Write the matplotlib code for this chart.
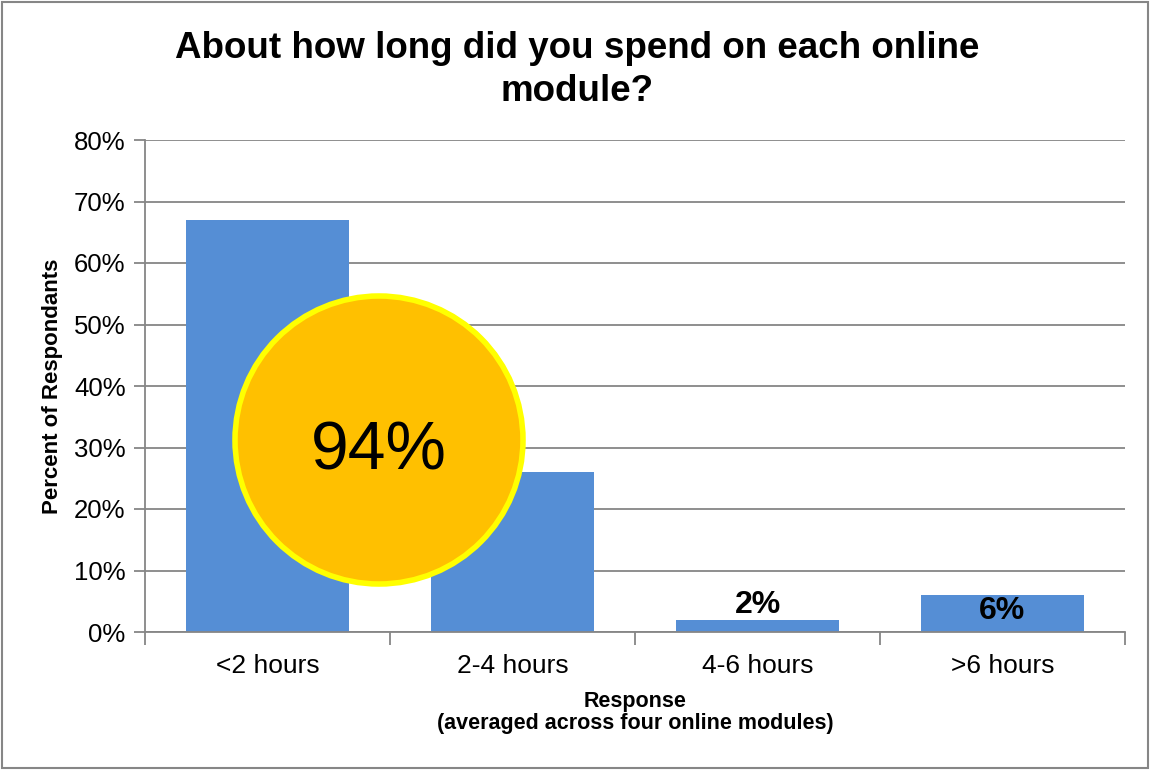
import matplotlib
matplotlib.use("Agg")
import matplotlib.pyplot as plt
from matplotlib.patches import Ellipse, Rectangle
from matplotlib.ticker import FuncFormatter, MultipleLocator

categories = ["<2 hours", "2-4 hours", "4-6 hours", ">6 hours"]
values = [67, 26, 2, 6]
labelled = [False, False, True, True]
callout_text = "94%"

plt.rcParams['font.family'] = ['Liberation Sans', 'DejaVu Sans']

W, H = 1150, 770
fig = plt.figure(figsize=(W / 100, H / 100), dpi=100)
ax = fig.add_axes([145 / W, 1 - 632 / H, (1125 - 145) / W, (632 - 140) / H])

grid_c = "#868686"
x = list(range(len(categories)))
ax.bar(x, values, width=0.665, color="#558ED5", zorder=2)
ax.set_xlim(-0.5, len(categories) - 0.5)
ax.set_ylim(0, 80)
ax.yaxis.set_major_locator(MultipleLocator(10))
ax.yaxis.set_major_formatter(FuncFormatter(lambda v, p: f"{v:.0f}%"))
ax.grid(axis="y", color=grid_c, linewidth=1.3, zorder=0)
ax.set_axisbelow(True)
for s in ["top", "right"]:
    ax.spines[s].set_visible(False)
for s in ["left", "bottom"]:
    ax.spines[s].set_color(grid_c)
    ax.spines[s].set_linewidth(1.3)
ax.set_xticks(x)
ax.set_xticklabels(categories, fontsize=19)
ax.tick_params(axis="x", length=0, pad=16)
ax.set_xticks([i - 0.5 for i in range(len(categories) + 1)], minor=True)
ax.tick_params(axis="x", which="minor", length=9, width=1.3, color=grid_c)
ax.tick_params(axis="y", length=8, width=1.3, color=grid_c, labelsize=18.5, pad=6)

ax.set_ylabel("Percent of Respondants", fontsize=16, fontweight="bold", labelpad=8)
ax.set_xlabel("Response\n(averaged across four online modules)", fontsize=15.5,
              fontweight="bold", labelpad=9, linespacing=1.1)

for xi, v, show in zip(x, values, labelled):
    if show:
        yy = v + 2.4 if v < 4 else v - 2.6
        ax.text(xi, yy, f"{v}%", ha="center", va="center", fontsize=23,
                fontweight="bold", zorder=4)

fig.text(0.502, 1 - 70 / H, "About how long did you spend on each online\nmodule?",
         ha="center", va="center", fontsize=26.5, fontweight="bold", linespacing=1.27)

# callout circle
cx, cy, r = 379, 440, 144
circ = Ellipse((cx / W, 1 - cy / H), 2 * r / W, 2 * r / H, transform=fig.transFigure,
               facecolor="#FFC000", edgecolor="#FFFF00", linewidth=4, zorder=10)
fig.patches.append(circ)
fig.text(cx / W, 1 - (cy + 12) / H, callout_text, ha="center", va="center",
         fontsize=49, zorder=11)

# figure border
fig.patches.append(Rectangle((0.002, 0.002), 0.996, 0.996, transform=fig.transFigure,
                             fill=False, edgecolor="#868686", linewidth=1.5))

fig.savefig("out.png", dpi=100)
